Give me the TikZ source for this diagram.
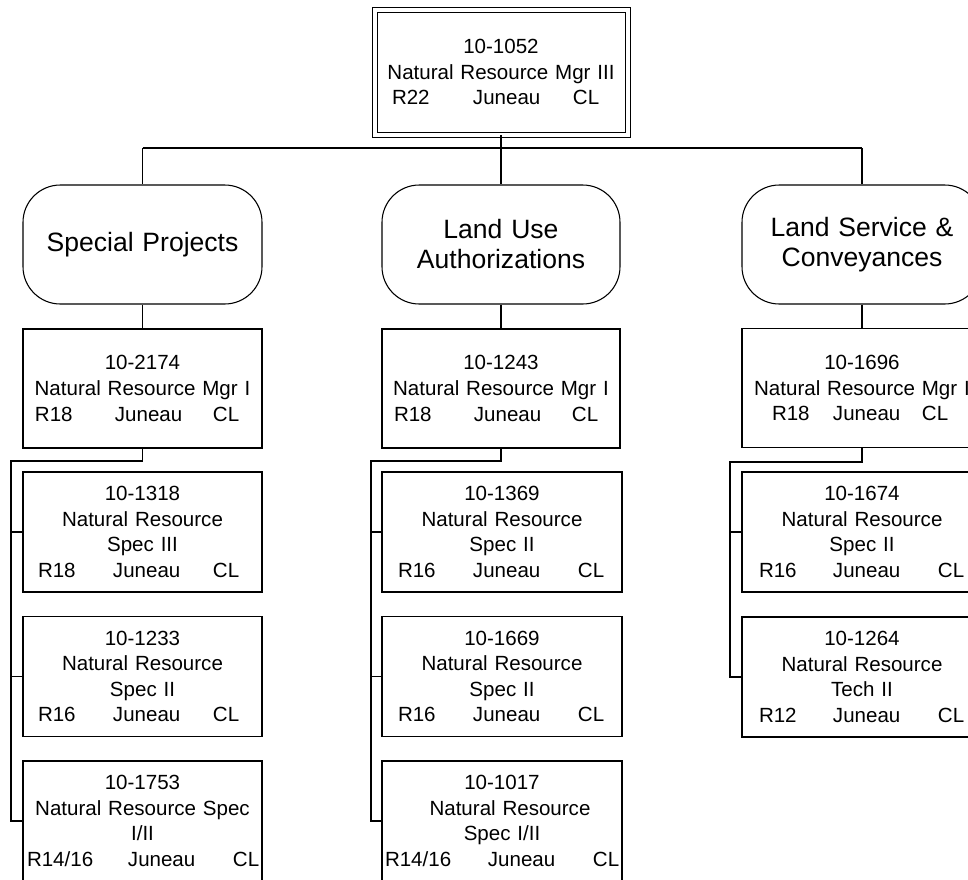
\documentclass[tikz,border=0pt]{standalone}
\usepackage{fontspec}
\setmainfont{Liberation Sans}
\newlength\px
\setlength\px{0.75pt}
\newcommand\tri[6]{\makebox[\hsize][l]{\hspace*{#1\px}\makebox[#2\px][l]{#4}\makebox[#3\px][l]{#5}#6}}
\tikzset{
  pbox/.style={draw, line width=1.2pt, rectangle, inner sep=0pt, align=center,
    font=\fontsize{15.4}{19.2}\selectfont, minimum height=120\px},
  rbox/.style={draw, line width=0.8pt, rectangle, rounded corners=28pt, inner sep=0pt, align=center,
    font=\fontsize{19.9}{22.5}\selectfont, minimum height=119\px},
  tbox/.style={draw, double, double distance=3pt, line width=0.75pt, rectangle, inner sep=0pt, align=center,
    font=\fontsize{15.4}{19.2}\selectfont},
  conn/.style={line width=1.1pt},
  thin/.style={line width=0.8pt}
}
\begin{document}
\begin{tikzpicture}[x=0.75pt,y=-0.75pt]
\useasboundingbox (0,0) rectangle (968,879);
\clip (0,0) rectangle (968,879);
\fill[white] (0,0) rectangle (968,879);

\node[tbox, text width=253\px, minimum height=125\px] (top) at (501,72)
  {10-1052\\Natural Resource Mgr III\\\tri{17.5}{81}{100}{R22}{Juneau}{CL}};

\node[rbox, text width=239\px] (sp) at (142.5,244.5) {Special Projects};
\node[rbox, text width=238\px] (lu) at (501,244.5) {Land Use\\Authorizations};
\node[rbox, text width=240\px] (ls) at (862,244.5) {Land Service \&\\Conveyances};

\node[pbox, text width=239\px, minimum height=119\px] (m1) at (142.5,388.5)
  {10-2174\\Natural Resource Mgr I\\\tri{12}{80}{98}{R18}{Juneau}{CL}};
\node[pbox, text width=238\px, minimum height=119\px] (m2) at (501,388.5)
  {10-1243\\Natural Resource Mgr I\\\tri{12}{80}{98}{R18}{Juneau}{CL}};
\node[pbox, text width=240\px, minimum height=119\px] (m3) at (862,388)
  {10-1696\\Natural Resource Mgr I\\\tri{30}{61}{89}{R18}{Juneau}{CL}};

\node[pbox, text width=239\px] (c11) at (142.5,532)
  {10-1318\\Natural Resource\\Spec III\\\tri{15}{75}{100}{R18}{Juneau}{CL}};
\node[pbox, text width=239\px] (c12) at (142.5,676.5)
  {10-1233\\Natural Resource\\Spec II\\\tri{15}{75}{100}{R16}{Juneau}{CL}};
\node[pbox, text width=239\px] (c13) at (142.5,821)
  {10-1753\\Natural Resource Spec\\I/II\\\tri{4}{101}{105}{R14/16}{Juneau}{CL}};

\node[pbox, text width=240\px] (c21) at (502,532)
  {10-1369\\Natural Resource\\Spec II\\\tri{16}{75}{105}{R16}{Juneau}{CL}};
\node[pbox, text width=240\px] (c22) at (502,676.5)
  {10-1669\\Natural Resource\\Spec II\\\tri{16}{75}{105}{R16}{Juneau}{CL}};
\node[pbox, text width=240\px] (c23) at (502,821)
  {10-1017\\\hspace*{16\px}Natural Resource\\Spec I/II\\\tri{3}{103}{105}{R14/16}{Juneau}{CL}};

\node[pbox, text width=240\px] (c31) at (862,532)
  {10-1674\\Natural Resource\\Spec II\\\tri{17}{74}{105}{R16}{Juneau}{CL}};
\node[pbox, text width=240\px] (c32) at (862,677)
  {10-1264\\Natural Resource\\Tech II\\\tri{17}{74}{105}{R12}{Juneau}{CL}};

% top bus
\coordinate (bus) at (0,148);
\draw[conn] (top.south) -- (top.south |- bus);
\draw[thin] (sp.north |- bus) -- (ls.north |- bus);
\draw[conn] (sp.north |- bus) -- (sp.north);
\draw[conn] (lu.north |- bus) -- (lu.north);
\draw[conn] (ls.north |- bus) -- (ls.north);

% group to manager
\draw[conn] (sp.south) -- (m1.north);
\draw[conn] (lu.south) -- (m2.north);
\draw[conn] (ls.south) -- (m3.north);

% left column
\coordinate (l1) at (11,461);
\draw[conn] (m1.south) |- (l1) |- (c13.west);
\draw[conn] (l1 |- c11.west) -- (c11.west);
\draw[conn] (l1 |- c12.west) -- (c12.west);

% middle column
\coordinate (l2) at (371,461);
\draw[conn] (m2.south) |- (l2) |- (c23.west);
\draw[conn] (l2 |- c21.west) -- (c21.west);
\draw[conn] (l2 |- c22.west) -- (c22.west);

% right column
\coordinate (l3) at (730,462);
\draw[conn] (m3.south) |- (l3) |- (c32.west);
\draw[conn] (l3 |- c31.west) -- (c31.west);
\end{tikzpicture}
\end{document}
